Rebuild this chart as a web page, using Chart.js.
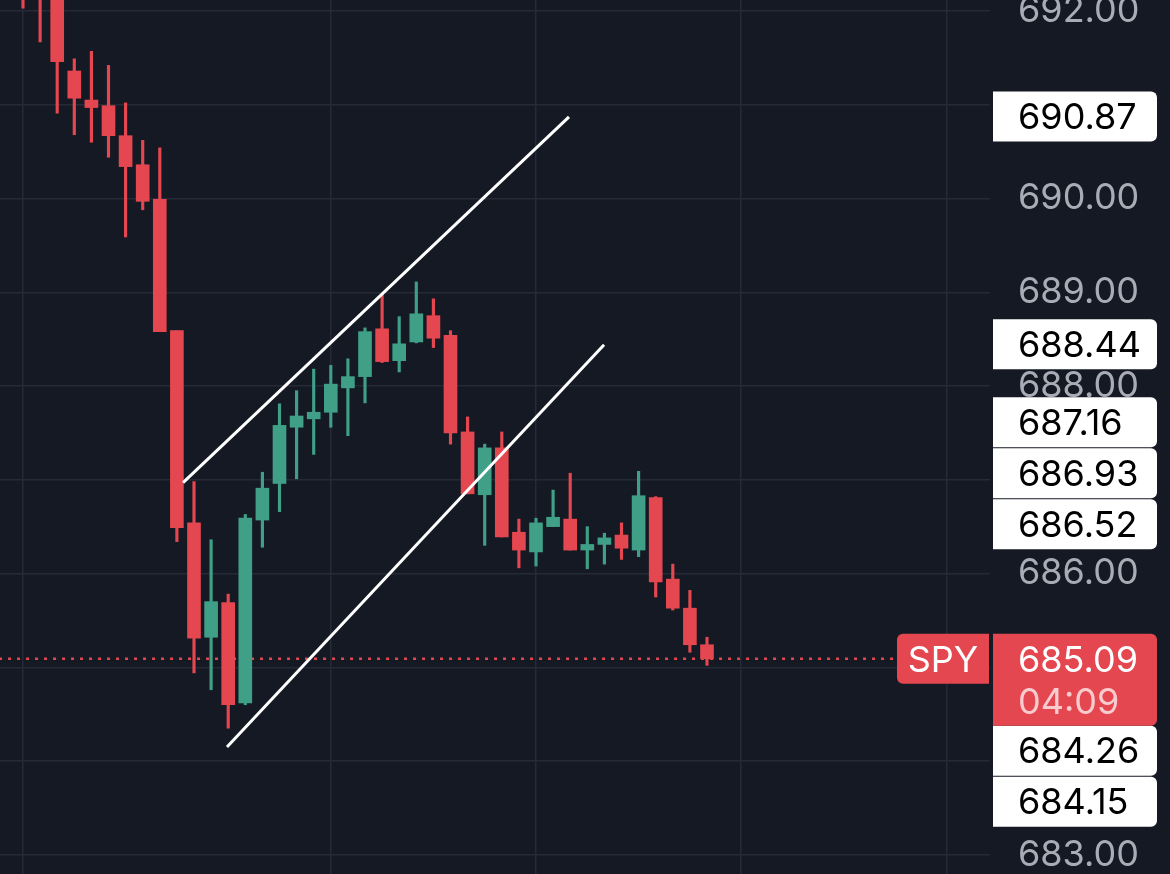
<!DOCTYPE html>
<html>
<head>
<meta charset="utf-8">
<script src="https://cdn.jsdelivr.net/npm/chart.js@4.4.1/dist/chart.umd.min.js"></script>
<style>
  html, body { margin:0; padding:0; background:#151924; }
  canvas { display:block; }
</style>
</head>
<body>
<canvas id="chart" width="1170" height="874"></canvas>
<script>
// SPY 1-min candles, oldest first
const opens  = [692.45, 692.30, 692.20, 691.36, 691.05, 690.99, 690.67, 690.36, 689.99, 688.59,
                686.54, 685.32, 685.69, 684.62, 686.57, 686.96, 687.56, 687.65, 687.72, 687.98,
                688.10, 688.61, 688.27, 688.47, 688.75, 688.54, 687.51, 686.84, 687.34, 686.44,
                686.23, 686.50, 686.58, 686.25, 686.31, 686.41, 686.25, 686.81, 685.94, 685.63, 685.24];
const highs  = [692.60, 692.45, 692.30, 691.49, 691.57, 691.42, 691.02, 690.62, 690.54, 688.59,
                686.98, 686.36, 685.78, 686.63, 687.08, 687.81, 687.95, 688.18, 688.22, 688.29,
                688.62, 688.98, 688.74, 689.11, 688.93, 688.59, 687.67, 687.38, 687.51, 686.58,
                686.59, 686.89, 687.07, 686.50, 686.43, 686.54, 687.09, 686.82, 686.10, 685.82, 685.32];
const lows   = [692.03, 691.67, 690.91, 690.68, 690.60, 690.44, 689.59, 689.88, 688.58, 686.34,
                684.94, 684.76, 684.35, 684.60, 686.28, 686.66, 687.01, 687.27, 687.56, 687.47,
                687.82, 688.25, 688.15, 688.46, 688.41, 687.38, 686.85, 686.30, 686.39, 686.06,
                686.08, 686.50, 686.25, 686.05, 686.10, 686.15, 686.18, 685.75, 685.61, 685.16, 685.02];
const closes = [692.25, 692.20, 691.46, 691.07, 690.97, 690.67, 690.34, 689.97, 688.58, 686.49,
                685.31, 685.70, 684.60, 686.59, 686.91, 687.58, 687.68, 687.72, 688.02, 688.10,
                688.58, 688.26, 688.45, 688.77, 688.51, 687.50, 686.85, 687.34, 686.39, 686.25,
                686.54, 686.60, 686.25, 686.31, 686.38, 686.27, 686.83, 685.91, 685.63, 685.24, 685.09];

// drawn channel (bar index, price)
const channelTop    = [{x: 9.36, y: 686.97}, {x: 31.93, y: 690.87}];
const channelBottom = [{x: 11.93, y: 684.15}, {x: 33.98, y: 688.44}];

const symbol = 'SPY';
const lastPrice = 685.09;
const countdown = '04:09';
const markPrices = [690.87, 688.44, 687.16, 686.93, 686.52, 684.26, 684.15];

const gridPrices = [683, 684, 685, 686, 687, 688, 689, 690, 691, 692];
const labelPrices = [683, 686, 688, 689, 690, 692];
const gridBars = [0, 18, 30, 42, 54];

const RED = '#e4474f';
const GREEN = '#3f9f87';
const GRID = '#262a36';
const FONT = 'Inter';

const colors = opens.map((o, i) => closes[i] >= o ? GREEN : RED);
const bodies = opens.map((o, i) => ({x: i, y: [o, closes[i]]}));
const wicks = opens.map((o, i) => ({x: i, y: [lows[i], highs[i]]}));

// price tags on the right axis, stacked so they don't overlap
const priceTags = {
  id: 'priceTags',
  afterDraw(chart) {
    const {ctx} = chart;
    const y = chart.scales.y;
    const left = y.left + 3, right = chart.width - 13, h = 51;
    const cur = y.getPixelForValue(lastPrice);
    const curTop = cur - 25, curBottom = cur + 67;
    const tags = markPrices.map(p => ({p, c: y.getPixelForValue(p)}));

    let limit = curTop;
    tags.filter(t => t.p > lastPrice).sort((a, b) => a.p - b.p).forEach(t => {
      t.c = Math.min(t.c, limit - h / 2); limit = t.c - h / 2;
    });
    limit = curBottom;
    tags.filter(t => t.p < lastPrice).sort((a, b) => b.p - a.p).forEach(t => {
      t.c = Math.max(t.c, limit + h / 2); limit = t.c + h / 2;
    });

    ctx.save();
    ctx.font = '36px ' + FONT;
    ctx.textBaseline = 'middle';
    ctx.textAlign = 'left';
    tags.forEach(t => {
      ctx.fillStyle = '#ffffff';
      ctx.beginPath();
      ctx.roundRect(left, t.c - h / 2, right - left, h - 1, [0, 6, 6, 0]);
      ctx.fill();
      ctx.fillStyle = '#000000';
      ctx.fillText(t.p.toFixed(2), left + 25, t.c + 1);
    });

    // last price box
    ctx.fillStyle = RED;
    ctx.beginPath();
    ctx.roundRect(left, curTop, right - left, curBottom - curTop, [0, 6, 6, 0]);
    ctx.fill();
    ctx.fillStyle = '#ffffff';
    ctx.fillText(lastPrice.toFixed(2), left + 25, cur + 2);
    ctx.fillStyle = 'rgba(255,255,255,0.72)';
    ctx.fillText(countdown, left + 25, cur + 44);

    // symbol box
    const sx = chart.chartArea.right - 93;
    ctx.fillStyle = RED;
    ctx.beginPath();
    ctx.roundRect(sx, curTop, 92, 50, [6, 0, 0, 6]);
    ctx.fill();
    ctx.fillStyle = '#ffffff';
    ctx.textAlign = 'center';
    ctx.fillText(symbol, sx + 46, cur + 2);
    ctx.restore();
  }
};

new Chart(document.getElementById('chart'), {
  type: 'bar',
  data: {
    datasets: [
      {type: 'line', data: channelTop, borderColor: '#ffffff', borderWidth: 3, pointRadius: 0, fill: false},
      {type: 'line', data: channelBottom, borderColor: '#ffffff', borderWidth: 3, pointRadius: 0, fill: false},
      {data: bodies, backgroundColor: colors, barThickness: 13, grouped: false, minBarLength: 2},
      {data: wicks, backgroundColor: colors, barThickness: 2.5, grouped: false},
      {type: 'line', data: [{x: -1.4, y: lastPrice}, {x: 51.1, y: lastPrice}],
       borderColor: RED, borderWidth: 2.5, borderDash: [3, 6], pointRadius: 0, fill: false}
    ]
  },
  options: {
    responsive: false,
    animation: false,
    layout: {padding: 0},
    plugins: {legend: {display: false}, tooltip: {enabled: false}},
    scales: {
      x: {
        type: 'linear', min: -23 / 17.1, max: (990 - 23) / 17.1, offset: false,
        grid: {color: GRID, lineWidth: 1.5, drawTicks: false, offset: false},
        border: {display: false},
        ticks: {display: false},
        afterBuildTicks: s => { s.ticks = gridBars.map(v => ({value: v})); },
        afterFit: s => { s.height = 0; s.paddingLeft = 0; s.paddingRight = 0; }
      },
      y: {
        position: 'right',
        min: 692 - 863 / 93.75, max: 692 + 11 / 93.75,
        grid: {color: GRID, lineWidth: 1.5, drawTicks: false},
        border: {display: false},
        ticks: {
          padding: 28, color: '#a9acb5', font: {family: FONT, size: 36},
          callback: v => labelPrices.includes(v) ? v.toFixed(2) : ''
        },
        afterBuildTicks: s => { s.ticks = gridPrices.map(v => ({value: v})); },
        afterFit: s => { s.width = 180; s.paddingTop = 0; s.paddingBottom = 0; }
      }
    }
  },
  plugins: [priceTags]
});
</script>
</body>
</html>
